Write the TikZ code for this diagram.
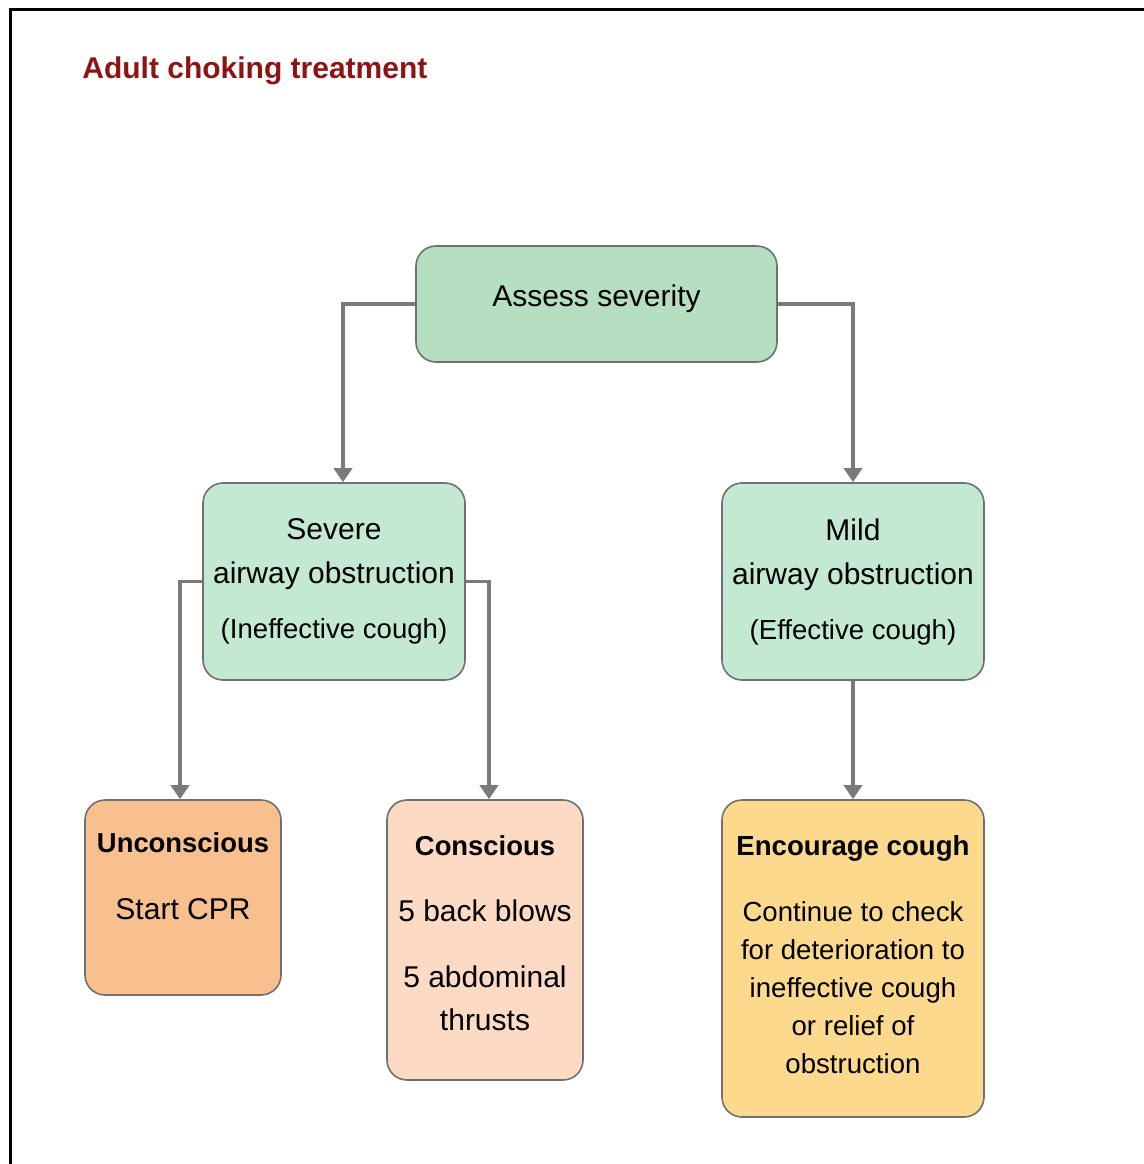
\documentclass[tikz,border=0pt]{standalone}
\usepackage{fontspec}
\setmainfont{Liberation Sans}
\usetikzlibrary{arrows.meta,positioning}

\definecolor{titlered}{HTML}{8E1414}
\definecolor{assessgreen}{HTML}{B5DFC0}
\definecolor{obstrgreen}{HTML}{C4E9D2}
\definecolor{uncorange}{HTML}{F9C08F}
\definecolor{conspeach}{HTML}{FDDAC4}
\definecolor{encyellow}{HTML}{FCD98D}
\definecolor{boxgray}{HTML}{707070}
\definecolor{arrowgray}{HTML}{7A7A7A}

\tikzset{
  box/.style={draw=boxgray, line width=0.8pt, rounded corners=10pt, align=center, inner sep=2pt},
  arr/.style={draw=arrowgray, line width=1.8pt, -{Triangle[width=9pt,length=7pt]}},
  bigtext/.style={font=\fontsize{15}{22}\selectfont},
}

\begin{document}
\begin{tikzpicture}[x=0.5pt,y=-0.5pt]
\useasboundingbox (0,0) rectangle (1144,1164);
% frame
\draw[line width=1.5pt] (10,1164) -- (10,9) -- (1144,9);
\node[anchor=west, inner sep=0pt, text=titlered, font=\bfseries\fontsize{15}{18}\selectfont] (title) at (82,71) {Adult choking treatment};

% boxes
\node[box, fill=assessgreen, minimum width=180.5pt, minimum height=58pt, bigtext] (assess) at (596.5,304) {Assess severity\\[-14pt]\mbox{}};
\node[box, fill=obstrgreen, minimum width=131pt, minimum height=98.5pt, bigtext] (severe) at (334,581.5) {Severe\\airway obstruction\\[5.5pt]{\fontsize{13.8}{22}\selectfont(Ineffective cough)}};
\node[box, fill=obstrgreen, minimum width=131pt, minimum height=98.5pt, bigtext] (mild) at (853,581.5) {Mild\\airway obstruction\\[5.5pt]{\fontsize{13.8}{22}\selectfont(Effective cough)}};
\node[box, fill=uncorange, minimum width=98pt, minimum height=97.5pt, bigtext] (unc) at (183,897.5) {{\fontsize{13.7}{22}\selectfont\bfseries Unconscious}\\[11.5pt]Start CPR\\[-1pt]\mbox{}};
\node[box, fill=conspeach, minimum width=98pt, minimum height=140pt, font=\fontsize{15}{21.5}\selectfont] (cons) at (485,940) {{\fontsize{13.7}{21.5}\selectfont\bfseries Conscious}\\[11.5pt]5 back blows\\[11.5pt]5 abdominal\\thrusts\\[-14.5pt]\mbox{}};
\node[box, fill=encyellow, minimum width=131pt, minimum height=158.5pt, font=\fontsize{13.8}{19}\selectfont] (enc) at (853,958.5) {{\bfseries Encourage cough}\\[14pt]Continue to check\\for deterioration to\\ineffective cough\\or relief of\\obstruction\\[-14.5pt]\mbox{}};

% connectors
\draw[arr] (assess.west) -| ([xshift=4.5pt]severe.north);
\draw[arr] (assess.east) -| (mild.north);
\draw[arr] (severe.west) -| ([xshift=-1.5pt]unc.north);
\draw[arr] (severe.east) -| ([xshift=2pt]cons.north);
\draw[arr] (mild) -- (enc);
\end{tikzpicture}
\end{document}
